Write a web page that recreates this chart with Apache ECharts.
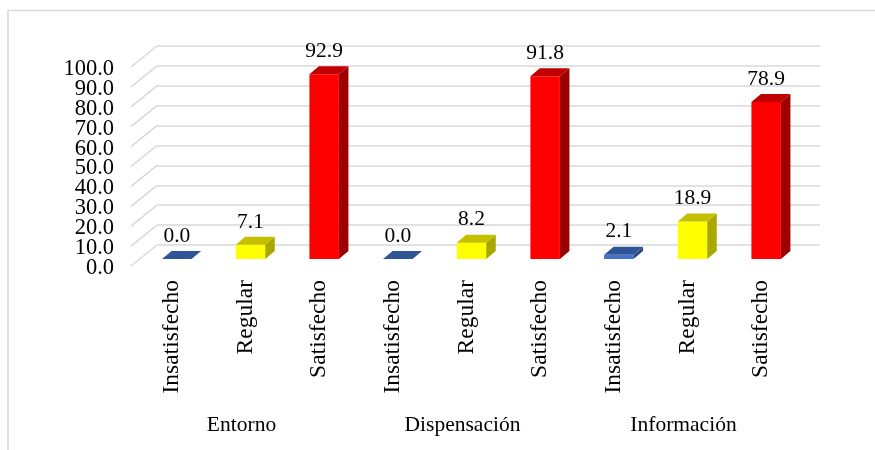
<!DOCTYPE html>
<html><head><meta charset="utf-8">
<style>html,body{margin:0;padding:0;background:#fff}#c{width:875px;height:450px}</style>
<script src="https://cdn.jsdelivr.net/npm/echarts@6/dist/echarts.min.js"></script>
</head><body><div id="c"></div>
<script>
var groups = ['Entorno', 'Dispensación', 'Información'];
var categories = ['Insatisfecho','Regular','Satisfecho','Insatisfecho','Regular','Satisfecho','Insatisfecho','Regular','Satisfecho'];
var values = [0.0, 7.1, 92.9, 0.0, 8.2, 91.8, 2.1, 18.9, 78.9];
var ticks = [0,10,20,30,40,50,60,70,80,90,100];
var palette = {
  Insatisfecho: {front:'#4472C4', top:'#2F5597', side:'#2A4B85'},
  Regular: {front:'#FFFF00', top:'#C4C000', side:'#A8A800'},
  Satisfecho: {front:'#FF0000', top:'#C00000', side:'#9C0000'}
};
var FONT = '"Liberation Serif","Times New Roman",serif';
var DX = 9.5, DY = 8, BAR = 29.5;
var WALL_DX = 26, WALL_DY = 21;

function renderBar(params, api) {
  var idx = api.value(0), val = api.value(1);
  var c = palette[categories[idx]];
  var top = api.coord([idx, val]), base = api.coord([idx, 0]);
  var l = top[0] - BAR/2, r = top[0] + BAR/2, t = top[1], b = base[1];
  var kids = [];
  if (b - t > 0.2) {
    kids.push({type:'polygon', shape:{points:[[l,t],[r,t],[r,b],[l,b]]}, style:{fill:c.front}});
    kids.push({type:'polygon', shape:{points:[[r,t],[r+DX,t-DY],[r+DX,b-DY],[r,b]]}, style:{fill:c.side}});
  }
  kids.push({type:'polygon', shape:{points:[[l,t],[r,t],[r+DX,t-DY],[l+DX,t-DY]]}, style:{fill:c.top}});
  kids.push({type:'text', style:{text:val.toFixed(1), x:top[0], y:t-DY-15, align:'center', verticalAlign:'middle', font:'21.5px '+FONT, fill:'#000'}});
  return {type:'group', children:kids};
}
function renderTick(params, api) {
  var v = api.value(0), y = api.coord([0, v])[1], x = params.coordSys.x;
  return {type:'group', children:[
    {type:'polyline', shape:{points:[[x,y],[x+WALL_DX,y-WALL_DY]]}, style:{stroke:'#D9D9D9', lineWidth:1.6, fill:null}},
    {type:'text', style:{text:v.toFixed(1), x:x-17, y:y+2, align:'right', verticalAlign:'middle', font:'22.5px '+FONT, fill:'#000'}}
  ]};
}
var chart = echarts.init(document.getElementById('c'), null, {renderer:'canvas'});
chart.setOption({
  animation:false,
  backgroundColor:'#fff',
  graphic:[{type:'polyline', silent:true, z:-1, shape:{points:[[8,450],[8,10.5],[875,10.5]]}, style:{stroke:'#D9D9D9', lineWidth:1.6, fill:null}}],
  grid:[
    {left:131, width:663, top:67, height:199},
    {left:157, width:663, top:46, height:199},
    {left:140, width:663, top:60, height:199},
    {left:135, width:663, top:60, height:199}
  ],
  xAxis:[
    {gridIndex:0, type:'category', data:groups, axisLine:{show:false}, axisTick:{show:false}, splitLine:{show:false},
     axisLabel:{margin:148, fontFamily:FONT, fontSize:21.5, color:'#000'}},
    {gridIndex:1, type:'category', data:groups, show:false},
    {gridIndex:2, type:'category', data:categories, show:false},
    {gridIndex:3, type:'category', data:categories, axisLine:{show:false}, axisTick:{show:false}, splitLine:{show:false},
     axisLabel:{interval:0, rotate:90, margin:21, fontFamily:FONT, fontSize:23.5, color:'#000'}}
  ],
  yAxis:[
    {gridIndex:0, type:'value', min:0, max:100, interval:10, axisLine:{show:false}, axisTick:{show:false}, splitLine:{show:false}, axisLabel:{show:false}},
    {gridIndex:1, type:'value', min:0, max:100, interval:10, axisLine:{show:false}, axisTick:{show:false}, axisLabel:{show:false},
     splitLine:{show:true, showMinLine:true, showMaxLine:true, lineStyle:{color:'#D9D9D9', width:1.6}}},
    {gridIndex:2, type:'value', min:0, max:100, interval:10, show:false, splitLine:{show:false}},
    {gridIndex:3, type:'value', min:0, max:100, interval:10, show:false, splitLine:{show:false}}
  ],
  series:[
    {type:'custom', xAxisIndex:0, yAxisIndex:0, coordinateSystem:'cartesian2d', renderItem:renderTick, data:ticks.map(function(t){return [t];}), encode:{y:0}, clip:false, silent:true, z:1},
    {type:'custom', xAxisIndex:2, yAxisIndex:2, coordinateSystem:'cartesian2d', renderItem:renderBar,
     data:values.map(function(v,i){return [i,v];}), encode:{x:0,y:1}, clip:false, silent:true, z:3}
  ]
});
</script></body></html>
